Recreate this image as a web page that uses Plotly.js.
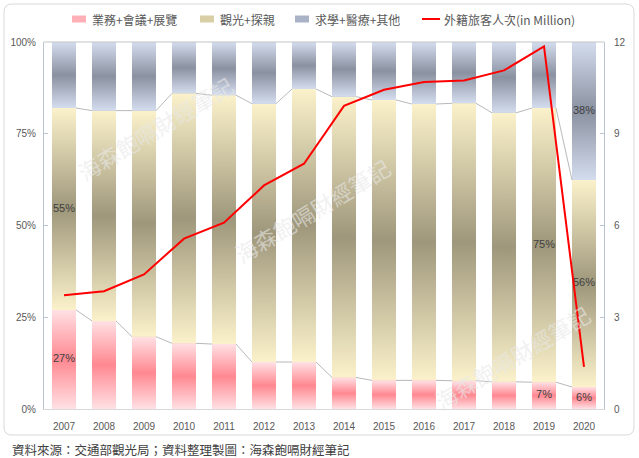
<!DOCTYPE html>
<html>
<head>
<meta charset="utf-8">
<script src="https://cdn.plot.ly/plotly-3.0.1.min.js"></script>
<style>
html,body{margin:0;padding:0;background:#ffffff;}
#chart{width:639px;height:458px;}
</style>
</head>
<body>
<div id="chart"></div>
<script>
// ---------- data ----------
const years = ['2007','2008','2009','2010','2011','2012','2013','2014','2015','2016','2017','2018','2019','2020'];
const business = [27.0, 24.0, 19.7, 17.9, 17.7, 12.8, 12.8, 8.6, 7.8, 7.8, 7.7, 7.4, 7.3, 6.0];   // 業務+會議+展覽 (%)
const tourism  = [55.0, 57.3, 61.6, 68.1, 67.8, 70.4, 74.4, 76.5, 76.4, 75.3, 75.6, 73.3, 74.7, 56.4]; // 觀光+探親 (%)
const other    = [18.0, 18.7, 18.7, 14.0, 14.5, 16.8, 12.8, 14.9, 15.8, 16.9, 16.7, 19.3, 18.0, 37.6]; // 求學+醫療+其他 (%)
const visitors = [3.72, 3.85, 4.40, 5.57, 6.09, 7.31, 8.02, 9.91, 10.44, 10.69, 10.74, 11.07, 11.86, 1.38]; // 外籍旅客人次 (百萬)
const seriesNames = ['業務+會議+展覽', '觀光+探親', '求學+醫療+其他'];
const lineName = '外籍旅客人次(in Million)';
const labelYearsBusiness = ['2007','2019','2020'];
const labelYearsTourism  = ['2007','2019','2020'];
const labelYearsOther    = ['2020'];
const leftTicks  = [0, 25, 50, 75, 100];
const rightTicks = [0, 3, 6, 9, 12];
const sourceText = '資料來源：交通部觀光局；資料整理製圖：海森飽嗝財經筆記';
const watermark = '海森飽嗝財經筆記';

// ---------- styles ----------
const BW = 0.6;
const CJK = '"Noto Sans CJK TC", "Noto Sans CJK SC", sans-serif';
const LAT = '"Liberation Sans", Arial, sans-serif';
const pal = [
  {edge:'#ffe1e4', mid:'#ff8891', solid:'#ffb3b8', sw:'#ffb0b6'},
  {edge:'#fbf2cb', mid:'#9f977b', solid:'#d8cfa9', sw:'#d9cfa6'},
  {edge:'#d4ddee', mid:'#8a91a1', solid:'#b1b9ca', sw:'#a9b2c6'}
];

const idx = years.map((_, i) => i);
const series = [business, tourism, other];
const labelYears = [labelYearsBusiness, labelYearsTourism, labelYearsOther];

// cumulative bottoms/tops (fractions)
const bottoms = [], tops = [];
let acc = years.map(() => 0);
series.forEach(s => {
  bottoms.push(acc.slice());
  acc = acc.map((a, i) => a + s[i] / 100);
  tops.push(acc.slice());
});

const traces = [];

// base stacked bars
series.forEach((s, k) => {
  traces.push({
    type: 'bar', name: seriesNames[k], x: idx, y: s.map(v => v / 100),
    width: BW, marker: {color: pal[k].solid, line: {width: 0}},
    hoverinfo: 'skip', showlegend: false
  });
});

// gradient overlay for every bar segment
series.forEach((s, k) => {
  idx.forEach(i => {
    const x0 = i - BW / 2, x1 = i + BW / 2, y0 = bottoms[k][i], y1 = tops[k][i];
    traces.push({
      type: 'scatter', mode: 'none', x: [x0, x1, x1, x0, x0], y: [y0, y0, y1, y1, y0],
      fill: 'toself', fillcolor: pal[k].solid,
      fillgradient: {type: 'vertical', start: y0, stop: y1,
        colorscale: [[0, pal[k].edge], [0.5, pal[k].mid], [1, pal[k].edge]]},
      hoverinfo: 'skip', showlegend: false
    });
  });
});

// series lines between bars
[tops[0], tops[1]].forEach(t => {
  const xs = [], ys = [];
  for (let i = 0; i < years.length - 1; i++) {
    xs.push(i + BW / 2, i + 1 - BW / 2, null);
    ys.push(t[i], t[i + 1], null);
  }
  traces.push({type: 'scatter', mode: 'lines', x: xs, y: ys,
    line: {color: '#a6a6a6', width: 0.8}, hoverinfo: 'skip', showlegend: false});
});

// data labels
series.forEach((s, k) => {
  const xs = [], ys = [], tx = [];
  idx.forEach(i => {
    if (labelYears[k].includes(years[i])) {
      xs.push(i); ys.push((bottoms[k][i] + tops[k][i]) / 2); tx.push(Math.round(s[i]) + '%');
    }
  });
  traces.push({type: 'scatter', mode: 'text', x: xs, y: ys, text: tx,
    textposition: 'middle center', textfont: {family: LAT, size: 11, color: '#404040'},
    hoverinfo: 'skip', showlegend: false});
});

// visitors line
traces.push({type: 'scatter', mode: 'lines', name: lineName, x: idx, y: visitors,
  yaxis: 'y2', line: {color: '#ff0000', width: 2}, showlegend: false});

// ---------- layout helpers ----------
const L = 44, R = 604, T = 42, B = 409;
const px = v => (v - L) / (R - L);
const py = v => (B - v) / (B - T);

const shapes = [];
const annotations = [];

// rounded border
(function(){
  const x0 = px(4), x1 = px(634), y0 = py(435), y1 = py(4);
  const rx = 8 / (R - L), ry = 8 / (B - T);
  shapes.push({type: 'path', xref: 'paper', yref: 'paper', layer: 'below',
    path: `M ${x0+rx},${y1} L ${x1-rx},${y1} Q ${x1},${y1} ${x1},${y1-ry} L ${x1},${y0+ry} Q ${x1},${y0} ${x1-rx},${y0} L ${x0+rx},${y0} Q ${x0},${y0} ${x0},${y0+ry} L ${x0},${y1-ry} Q ${x0},${y1} ${x0+rx},${y1} Z`,
    line: {color: '#d9d9d9', width: 1}, fillcolor: 'rgba(0,0,0,0)'});
})();

// top border line of plot
shapes.push({type: 'line', xref: 'paper', yref: 'paper', x0: 0, x1: 1, y0: 1, y1: 1,
  line: {color: '#c4c4c4', width: 1}});

// manual legend
const legY = 19;
const legItems = [
  {sx: 72, tx: 90, kind: 'box', color: pal[0].sw, text: seriesNames[0]},
  {sx: 200, tx: 218, kind: 'box', color: pal[1].sw, text: seriesNames[1]},
  {sx: 295, tx: 313, kind: 'box', color: pal[2].sw, text: seriesNames[2]},
  {sx: 422, tx: 442, kind: 'line', color: '#ff0000', text: lineName}
];
legItems.forEach(it => {
  if (it.kind === 'box') {
    shapes.push({type: 'rect', xref: 'paper', yref: 'paper', x0: px(it.sx), x1: px(it.sx + 14),
      y0: py(legY + 3.5), y1: py(legY - 3.5), fillcolor: it.color, line: {width: 0}});
  } else {
    shapes.push({type: 'line', xref: 'paper', yref: 'paper', x0: px(it.sx), x1: px(it.sx + 18),
      y0: py(legY), y1: py(legY), line: {color: it.color, width: 2}});
  }
  annotations.push({xref: 'paper', yref: 'paper', x: px(it.tx), y: py(legY), xanchor: 'left', yanchor: 'middle',
    text: it.text, showarrow: false, font: {family: CJK, size: 12, color: '#595959'}});
});

// watermarks
[[155, 128], [312, 210], [512, 357]].forEach(c => {
  annotations.push({xref: 'paper', yref: 'paper', x: px(c[0]), y: py(c[1]), xanchor: 'center', yanchor: 'middle',
    text: watermark, showarrow: false, textangle: -31,
    font: {family: CJK, size: 22, color: 'rgba(232,232,232,0.6)'}});
});

// source note
annotations.push({xref: 'paper', yref: 'paper', x: px(10), y: py(449), xanchor: 'left', yanchor: 'middle',
  text: sourceText, showarrow: false, font: {family: CJK, size: 12.5, color: '#404040'}});

const layout = {
  width: 639, height: 458,
  margin: {l: L, r: 639 - R, t: T, b: 458 - B, pad: 0},
  paper_bgcolor: '#ffffff', plot_bgcolor: '#ffffff',
  barmode: 'stack', showlegend: false,
  font: {family: LAT, color: '#595959'},
  xaxis: {range: [-0.5, years.length - 0.5], tickvals: idx, ticktext: years,
    showgrid: false, zeroline: false, showline: true, linecolor: '#d9d9d9', linewidth: 1,
    ticks: '', tickfont: {family: LAT, size: 10, color: '#595959'}, ticklabelstandoff: 8, fixedrange: true},
  yaxis: {range: [0, 1], tickvals: leftTicks.map(v => v / 100), ticktext: leftTicks.map(v => v + '%'),
    showgrid: false, zeroline: false, showline: true, linecolor: '#b9c4d4', linewidth: 1,
    ticks: 'inside', ticklen: 4, tickcolor: '#b9c4d4', tickfont: {family: LAT, size: 10, color: '#595959'},
    ticklabelstandoff: 5, fixedrange: true},
  yaxis2: {overlaying: 'y', side: 'right', anchor: 'x', range: [0, 12], tickvals: rightTicks,
    showgrid: false, zeroline: false, showline: true, linecolor: '#b9c4d4', linewidth: 1,
    ticks: 'inside', ticklen: 4, tickcolor: '#b9c4d4', tickfont: {family: LAT, size: 10, color: '#595959'},
    ticklabelstandoff: 7, fixedrange: true},
  shapes: shapes,
  annotations: annotations
};

Plotly.newPlot('chart', traces, layout, {staticPlot: true, displayModeBar: false});
</script>
</body>
</html>
